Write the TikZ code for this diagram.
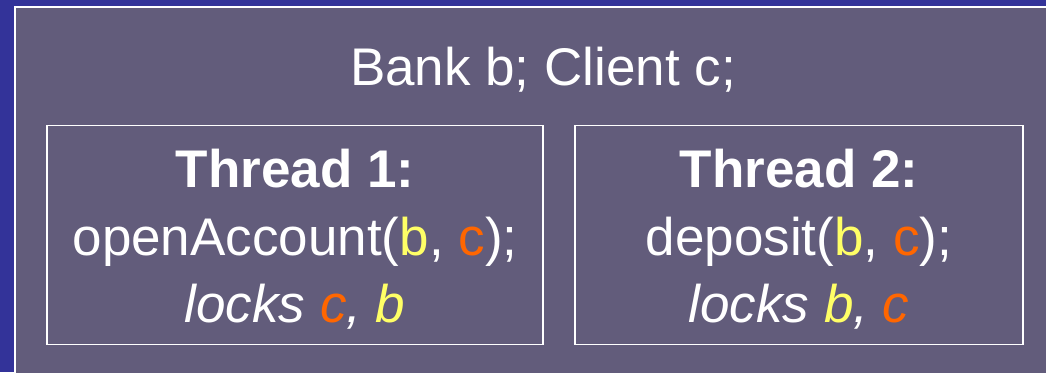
\documentclass[tikz,border=0pt]{standalone}
\usepackage{fontspec}
\setmainfont{Liberation Sans}
\definecolor{slideblue}{RGB}{51,51,153}
\definecolor{slate}{RGB}{98,92,123}
\definecolor{bvar}{RGB}{255,255,102}
\definecolor{cvar}{RGB}{255,102,0}

\newcommand{\bv}{\textcolor{bvar}{b}}
\newcommand{\cv}{\textcolor{cvar}{c}}

\begin{document}
\begin{tikzpicture}[
  x=1bp, y=-1bp,
  frame/.style={draw=white, line width=2bp, fill=slate},
  threadbox/.style={
    draw=white, line width=1.6bp, inner sep=0pt,
    minimum width=496bp, minimum height=219bp
  },
  codeline/.style={
    anchor=base, inner sep=0pt, text=white,
    font=\fontsize{53bp}{64bp}\selectfont
  }
]

% Slide background and the outer panel.
\clip (0,0) rectangle (1046,372);
\fill[slideblue] (0,0) rectangle (1046,372);
\draw[frame] (15,7) rectangle (1080,400);

\node[codeline] (decl) at (543,85) {Bank b; Client c;};

% The two threads.
\node[threadbox] (thread1) at (295,235) {};
\node[threadbox, minimum width=448bp] (thread2) at (799,235) {};

\node[codeline, font=\fontsize{53bp}{64bp}\selectfont\bfseries]
  (head1) at (295,187) {Thread 1:};
\node[codeline] (call1) at (295,255) {openAccount(\bv, \cv);};
\node[codeline, font=\fontsize{53bp}{64bp}\selectfont\itshape]
  (lock1) at (295,322) {locks \cv, \bv};

\node[codeline, font=\fontsize{53bp}{64bp}\selectfont\bfseries]
  (head2) at (799,187) {Thread 2:};
\node[codeline] (call2) at (799,255) {deposit(\bv, \cv);};
\node[codeline, font=\fontsize{53bp}{64bp}\selectfont\itshape]
  (lock2) at (799,322) {locks \bv, \cv};

\end{tikzpicture}
\end{document}
